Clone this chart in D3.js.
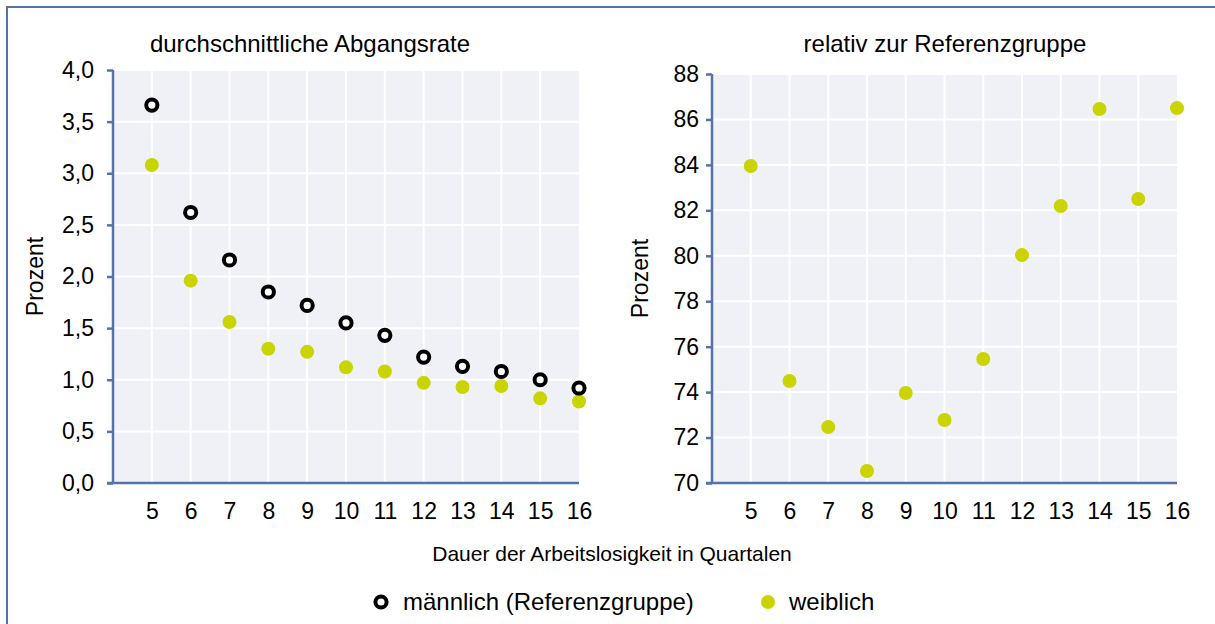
<!DOCTYPE html>
<html>
<head>
<meta charset="utf-8">
<script src="https://cdn.jsdelivr.net/npm/d3@7"></script>
<style>
  body { margin: 0; background: #fff; }
  svg { display: block; font-family: "Liberation Sans", Arial, sans-serif; }
</style>
</head>
<body>
<svg id="chart" width="1215" height="624"></svg>
<script>
// Quartale (Dauer der Arbeitslosigkeit)
let quarters = [5, 6, 7, 8, 9, 10, 11, 12, 13, 14, 15, 16];
// durchschnittliche Abgangsrate in Prozent
let maleRate = [3.66, 2.62, 2.16, 1.85, 1.72, 1.55, 1.43, 1.22, 1.13, 1.08, 1.00, 0.92];
let femaleRate = [3.08, 1.96, 1.56, 1.30, 1.27, 1.12, 1.08, 0.97, 0.93, 0.94, 0.82, 0.79];
// relativ zur Referenzgruppe in Prozent
let femaleRelative = [83.95, 74.49, 72.46, 70.53, 73.96, 72.77, 75.46, 80.03, 82.19, 86.46, 82.5, 86.5];

let leftTicks = [0, 0.5, 1, 1.5, 2, 2.5, 3, 3.5, 4];
let rightTicks = [70, 72, 74, 76, 78, 80, 82, 84, 86, 88];

const AXIS = "#5572ab";
const YELLOW = "#c9d400";
const BG = "#f0f1f7";
const fmt = d3.format(".1f");

let svg = d3.select("#chart");

// outer frame
svg.append("rect")
    .attr("x", 7).attr("y", 7)
    .attr("width", 1230).attr("height", 640)
    .attr("fill", "none")
    .attr("stroke", AXIS)
    .attr("stroke-width", 2);

function drawPanel(opts) {
    let x = d3.scaleLinear().domain([4, 16]).range([opts.left, opts.right]);
    let y = d3.scaleLinear().domain(opts.domain).range([483, opts.top]);
    let g = svg.append("g");

    g.append("rect")
        .attr("x", opts.left).attr("y", opts.top)
        .attr("width", opts.right - opts.left).attr("height", 483 - opts.top)
        .attr("fill", BG);

    // grid
    g.selectAll(".vgrid").data(quarters.slice(0, -1)).join("line")
        .attr("x1", d => x(d)).attr("x2", d => x(d))
        .attr("y1", opts.top).attr("y2", 483)
        .attr("stroke", "#fff").attr("stroke-width", 2);
    g.selectAll(".hgrid").data(opts.ticks.slice(1)).join("line")
        .attr("x1", opts.left).attr("x2", opts.right)
        .attr("y1", d => y(d)).attr("y2", d => y(d))
        .attr("stroke", "#fff").attr("stroke-width", 2);

    // y axis
    let yAxis = d3.axisLeft(y).tickValues(opts.ticks).tickSize(6).tickPadding(opts.pad)
        .tickFormat(opts.format);
    let ya = g.append("g").attr("transform", `translate(${opts.left},0)`).call(yAxis);
    ya.select(".domain").remove();
    ya.append("line").attr("x1", 0).attr("x2", 0).attr("y1", opts.top).attr("y2", 484)
        .attr("stroke", AXIS).attr("stroke-width", 2.5);
    ya.selectAll(".tick line").attr("stroke", AXIS).attr("stroke-width", 2.5);
    ya.selectAll("text").attr("font-size", 23).attr("fill", "#000");

    // x axis
    let xAxis = d3.axisBottom(x).tickValues(quarters).tickSize(0).tickPadding(20)
        .tickFormat(d3.format("d"));
    let xa = g.append("g").attr("transform", "translate(0,483)").call(xAxis);
    xa.select(".domain").remove();
    xa.append("line").attr("x1", opts.left - 6).attr("x2", opts.right).attr("y1", 0).attr("y2", 0)
        .attr("stroke", AXIS).attr("stroke-width", 2.5);
    xa.selectAll("text").attr("font-size", 23).attr("fill", "#000");

    // titles
    g.append("text")
        .attr("x", opts.titleX).attr("y", 52)
        .attr("text-anchor", "middle").attr("font-size", 24)
        .text(opts.title);
    g.append("text")
        .attr("transform", `translate(${opts.yTitleX},${(opts.top + 483) / 2}) rotate(-90)`)
        .attr("text-anchor", "middle").attr("font-size", 23)
        .text("Prozent");

    return { x: x, y: y, g: g };
}

let left = drawPanel({
    left: 113, right: 579, top: 70, domain: [0, 4], ticks: leftTicks,
    format: d => fmt(d).replace(".", ","), pad: 13,
    title: "durchschnittliche Abgangsrate", titleX: 310, yTitleX: 43
});
left.g.selectAll(".fem").data(femaleRate).join("circle")
    .attr("cx", (d, i) => left.x(quarters[i]))
    .attr("cy", d => left.y(d))
    .attr("r", 7).attr("fill", YELLOW);
left.g.selectAll(".male").data(maleRate).join("circle")
    .attr("cx", (d, i) => left.x(quarters[i]))
    .attr("cy", d => left.y(d))
    .attr("r", 5.6).attr("fill", "#fff")
    .attr("stroke", "#000").attr("stroke-width", 4);

let right = drawPanel({
    left: 712, right: 1177, top: 74, domain: [70, 88], ticks: rightTicks,
    format: d3.format("d"), pad: 7,
    title: "relativ zur Referenzgruppe", titleX: 945, yTitleX: 648
});
right.g.selectAll(".fem").data(femaleRelative).join("circle")
    .attr("cx", (d, i) => right.x(quarters[i]))
    .attr("cy", d => right.y(d))
    .attr("r", 7).attr("fill", YELLOW);

// common x title
svg.append("text")
    .attr("x", 612).attr("y", 561)
    .attr("text-anchor", "middle").attr("font-size", 21)
    .text("Dauer der Arbeitslosigkeit in Quartalen");

// legend
let legend = svg.append("g");
legend.append("circle").attr("cx", 381).attr("cy", 602).attr("r", 5.6)
    .attr("fill", "#fff").attr("stroke", "#000").attr("stroke-width", 4);
legend.append("text").attr("x", 403).attr("y", 610).attr("font-size", 24)
    .text("männlich (Referenzgruppe)");
legend.append("circle").attr("cx", 768).attr("cy", 602).attr("r", 7).attr("fill", YELLOW);
legend.append("text").attr("x", 789).attr("y", 610).attr("font-size", 24)
    .text("weiblich");
</script>
</body>
</html>
